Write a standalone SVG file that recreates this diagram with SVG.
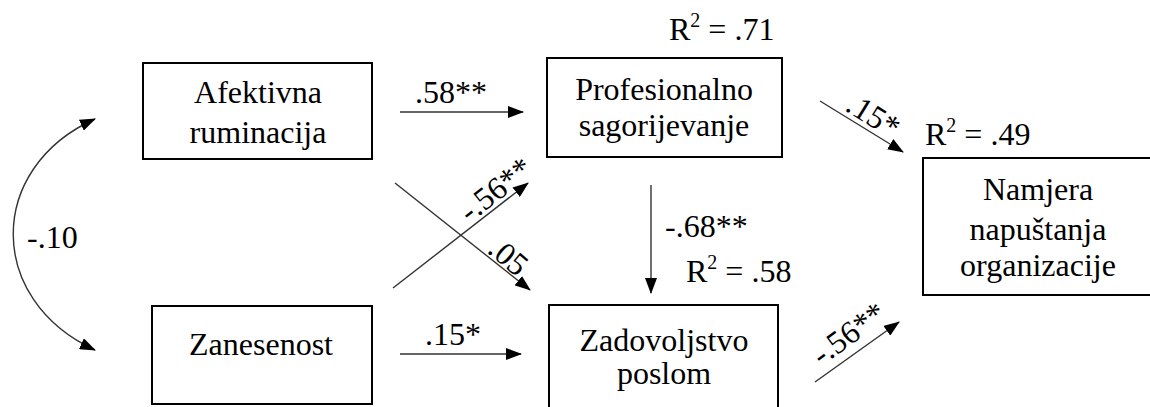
<svg xmlns="http://www.w3.org/2000/svg" width="1150" height="407" viewBox="0 0 1150 407">
<style>
.box{fill:#fff;stroke:#000;stroke-width:2}
.t{font-size:32px;fill:#000;text-anchor:middle}
.lbl{font-size:32px;fill:#000}
.c{fill:none;stroke:#333;stroke-width:1.4}
</style>
<defs>
<marker id="ah" markerUnits="userSpaceOnUse" markerWidth="16" markerHeight="12" viewBox="0 0 16 12" refX="15" refY="6" orient="auto-start-reverse">
<path d="M0,0 L16,6 L0,12 z" fill="#000"/>
</marker>
</defs>
<rect width="1150" height="407" fill="#fff"/>
<g font-family="Liberation Serif, Tinos, Times New Roman, DejaVu Serif, serif">
<g id="connectors">
<path class="c" d="M95,119 C-14,168 -14,300 95,350" marker-start="url(#ah)" marker-end="url(#ah)"/>
<line class="c" x1="400" y1="112" x2="523" y2="112" marker-end="url(#ah)"/>
<line class="c" x1="400" y1="354" x2="521" y2="354" marker-end="url(#ah)"/>
<line class="c" x1="395" y1="183" x2="530" y2="290" marker-end="url(#ah)"/>
<line class="c" x1="393" y1="288" x2="528" y2="183" marker-end="url(#ah)"/>
<line class="c" x1="651" y1="185" x2="651" y2="293" marker-end="url(#ah)"/>
<line class="c" x1="820" y1="101" x2="903" y2="152" marker-end="url(#ah)"/>
<line class="c" x1="815" y1="382" x2="899" y2="322" marker-end="url(#ah)"/>
<text class="lbl" x="27" y="248">-.10</text>
<text class="lbl" x="415" y="103">.58**</text>
<text class="lbl" x="425" y="345">.15*</text>
<text class="lbl" x="665" y="237">-.68**</text>
<text class="lbl" text-anchor="middle" transform="translate(496,190) rotate(-38)" y="10">-.56**</text>
<text class="lbl" text-anchor="middle" transform="translate(508,257) rotate(40)" y="10">.05</text>
<text class="lbl" text-anchor="middle" transform="translate(873,116) rotate(32)" y="10">.15*</text>
<text class="lbl" text-anchor="middle" transform="translate(849,334) rotate(-36)" y="10">-.56**</text>
</g>
<g id="r2">
<text class="lbl" x="669" y="40">R<tspan font-size="20" dy="-13">2</tspan><tspan dy="13"> = .71</tspan></text>
<text class="lbl" x="925" y="145">R<tspan font-size="20" dy="-13">2</tspan><tspan dy="13"> = .49</tspan></text>
<text class="lbl" x="686" y="282">R<tspan font-size="20" dy="-13">2</tspan><tspan dy="13"> = .58</tspan></text>
</g>
<g id="afektivna">
<rect class="box" x="143" y="63" width="229" height="96"/>
<text class="t" x="258" y="103">Afektivna</text>
<text class="t" x="258" y="143">ruminacija</text>
</g>
<g id="zanesenost">
<rect class="box" x="152" y="306" width="220" height="98"/>
<text class="t" x="261" y="355">Zanesenost</text>
</g>
<g id="profesionalno">
<rect class="box" x="547" y="58" width="235" height="99"/>
<text class="t" x="664" y="100">Profesionalno</text>
<text class="t" x="664" y="136">sagorijevanje</text>
</g>
<g id="zadovoljstvo">
<rect class="box" x="549" y="305" width="229" height="120"/>
<text class="t" x="664" y="351">Zadovoljstvo</text>
<text class="t" x="664" y="384">poslom</text>
</g>
<g id="namjera">
<rect class="box" x="923" y="158" width="232" height="137"/>
<text class="t" x="1038" y="200">Namjera</text>
<text class="t" x="1038" y="240">napuštanja</text>
<text class="t" x="1038" y="276">organizacije</text>
</g>
</g>
</svg>
